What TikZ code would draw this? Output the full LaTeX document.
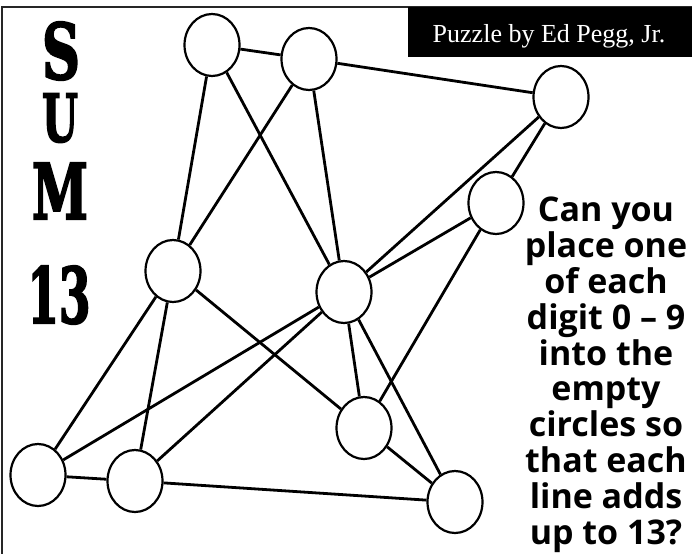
\documentclass[tikz,border=0pt]{standalone}
\usepackage{fontspec}
\usepackage{graphicx}
\usetikzlibrary{shapes.geometric}
\newfontfamily\blurbfont{Open Sans}
\newfontfamily\bylinefont{Liberation Serif}
\newfontfamily\titlefont[UprightFont=* Bold,FakeBold=3]{DejaVu Serif}

\begin{document}
\begin{tikzpicture}[x=1pt,y=-1pt]

\useasboundingbox (0,0) rectangle (692,554);

\tikzstyle{every node}=[inner sep=0pt,anchor=center];
\tikzstyle{spot}=[draw,shape=ellipse,line width=2.2pt,fill=white,minimum width=55pt,minimum height=62pt];
\tikzstyle{letter}=[font=\titlefont];

% Frame and title bar
\coordinate (fr0) at (692,7);
\coordinate (fr1) at (2,7);
\coordinate (fr2) at (2,554);
\draw[line width=2.5pt,black!85] (fr0) -- (fr1) -- (fr2);
\node[fill=black,minimum width=284pt,minimum height=50pt,anchor=north west] (bar) at (408,7) {};
\node[text=white,font=\bylinefont\fontsize{26}{26}\selectfont,anchor=base] (byline) at (549,42) {Puzzle by Ed Pegg, Jr.};

% Big letters down the left side
\node[letter] (s) at (61,51) {\resizebox{38pt}{57pt}{S}};
\node[letter] (u) at (60,118) {\resizebox{36pt}{48pt}{U}};
\node[letter] (m) at (60,191) {\resizebox{56pt}{56pt}{M}};
\node[letter] (num) at (59,295) {\resizebox{63pt}{57pt}{13}};

% The question
\node[font=\blurbfont\bfseries\fontsize{34}{35.8}\selectfont,align=center,anchor=north] (blurb) at (606,197)
  {Can you\\place one\\of each\\digit 0 – 9\\into the\\empty\\circles so\\that each\\line adds\\up to 13?};

% Draw the empty circles
\node[spot] (c0) at (212,45) {};
\node[spot] (c1) at (309,59) {};
\node[spot] (c2) at (561,97) {};
\node[spot] (c3) at (496,203) {};
\node[spot] (c4) at (173,271) {};
\node[spot] (c5) at (344,292) {};
\node[spot] (c6) at (364,428) {};
\node[spot] (c7) at (38,475) {};
\node[spot] (c8) at (135,481) {};
\node[spot] (c9) at (455,502) {};

\tikzset{every edge/.append style = {line width=2.8pt}};

% Lines that must add up to 13
\path
  (c0) edge (c1)
  (c1) edge (c2)
  (c0) edge (c4)
  (c0) edge (c5)
  (c1) edge (c4)
  (c1) edge (c5)
  (c2) edge (c5)
  (c2) edge (c3)
  (c3) edge (c5)
  (c3) edge (c6)
  (c4) edge (c6)
  (c4) edge (c7)
  (c4) edge (c8)
  (c5) edge (c7)
  (c5) edge (c8)
  (c5) edge (c6)
  (c5) edge (c9)
  (c6) edge (c9)
  (c7) edge (c8)
  (c8) edge (c9);

\end{tikzpicture}
\end{document}
